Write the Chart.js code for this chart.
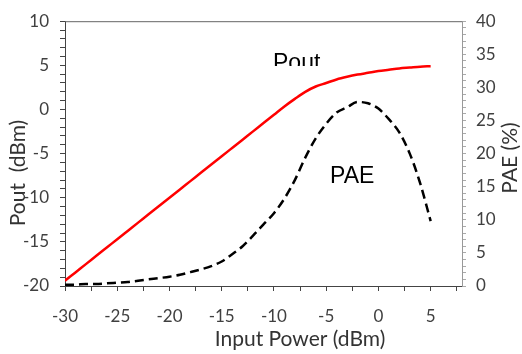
<!DOCTYPE html>
<html>
<head>
<meta charset="utf-8">
<script src="https://cdn.jsdelivr.net/npm/chart.js@4.4.1/dist/chart.umd.min.js"></script>
<style>
  body { margin: 0; background: #fff; }
  #wrap { width: 522px; height: 354px; }
</style>
</head>
<body>
<div id="wrap"><canvas id="paChart" width="522" height="354"></canvas></div>
<script>
// input sweep (dBm)
let inputPower = [-30, -29, -28, -27, -26, -25, -24, -23, -22, -21, -20, -19, -18, -17, -16, -15,
    -14, -13, -12, -11, -10, -9, -8, -7, -6, -5, -4, -3, -2, -1, 0, 1, 2, 3, 4, 5];

// output power (dBm)
let poutDbm = [-19.4, -18.46, -17.52, -16.58, -15.64, -14.7, -13.76, -12.82, -11.88, -10.94,
    -10.0, -9.06, -8.12, -7.18, -6.24, -5.3, -4.36, -3.42, -2.48, -1.54, -0.6, 0.34, 1.2, 2.0,
    2.6, 3.0, 3.4, 3.7, 3.95, 4.15, 4.35, 4.5, 4.65, 4.75, 4.85, 4.9];

// power added efficiency (%)
let paePct = [0.2, 0.2, 0.3, 0.3, 0.4, 0.5, 0.6, 0.8, 1.0, 1.2, 1.4, 1.7, 2.1, 2.5, 3.0, 3.7,
    4.8, 6.0, 7.6, 9.3, 11.0, 13.2, 16.0, 19.4, 22.3, 24.5, 26.2, 27.0, 27.8, 27.6, 26.8,
    25.2, 23.2, 20.0, 15.5, 9.8];

// tick positions
let xTicks = [-30, -27.5, -25, -22.5, -20, -17.5, -15, -12.5, -10, -7.5, -5, -2.5, 0, 2.5, 5, 7.5];
let xRange = [-30, 8];
let poutRange = [-20, 10];
let paeRange = [0, 40];

const tickFont = { family: 'Lato', size: 17 };
const tickColor = '#404040';

function every5(v) {
    return Math.abs(v % 5) < 1e-9 ? String(v) : '';
}

// frame top edge, axis titles and curve labels
const decorations = {
    id: 'decorations',
    afterDraw(chart) {
        const c = chart.ctx;
        const a = chart.chartArea;
        c.save();
        c.strokeStyle = '#666';
        c.lineWidth = 1;
        c.beginPath();
        c.moveTo(a.left, a.top + 0.5);
        c.lineTo(a.right, a.top + 0.5);
        c.stroke();

        c.fillStyle = '#333';
        c.font = '21px Lato';
        c.textAlign = 'center';
        c.textBaseline = 'middle';
        c.fillText('Input Power (dBm)', 300, 339);

        c.save();
        c.translate(18, 173);
        c.rotate(-Math.PI / 2);
        c.fillText('Pout  (dBm)', 0, 0);
        c.restore();

        c.save();
        c.translate(510, 158);
        c.rotate(-Math.PI / 2);
        c.fillText('PAE (%)', 0, 0);
        c.restore();

        c.fillStyle = '#000';
        c.font = '23px "Liberation Sans"';
        c.textAlign = 'left';
        c.textBaseline = 'alphabetic';
        c.fillText('PAE', 330, 183);

        c.save();
        c.beginPath();
        c.rect(200, 30, 200, 36);
        c.clip();
        c.fillText('Pout', 273, 70);
        c.restore();

        c.restore();
    }
};

let ctx = document.getElementById('paChart').getContext('2d');

let paChart = new Chart(ctx, {
    type: 'line',
    data: {
        labels: inputPower,
        datasets: [
            {
                label: 'Pout',
                data: inputPower.map((x, i) => ({ x: x, y: poutDbm[i] })),
                yAxisID: 'y',
                borderColor: '#ff0000',
                borderWidth: 2.5,
                pointRadius: 0,
                cubicInterpolationMode: 'monotone',
                fill: false
            },
            {
                label: 'PAE',
                data: inputPower.map((x, i) => ({ x: x, y: paePct[i] })),
                yAxisID: 'y1',
                borderColor: '#000000',
                borderWidth: 2.5,
                borderDash: [9, 5],
                pointRadius: 0,
                cubicInterpolationMode: 'monotone',
                fill: false
            }
        ]
    },
    options: {
        responsive: false,
        animation: false,
        layout: { padding: { top: 20 } },
        plugins: {
            legend: { display: false },
            tooltip: { enabled: false }
        },
        scales: {
            x: {
                type: 'linear',
                min: xRange[0],
                max: xRange[1],
                afterBuildTicks: scale => { scale.ticks = xTicks.map(v => ({ value: v })); },
                afterFit: scale => { scale.height = 68; },
                ticks: { callback: every5, autoSkip: false, maxRotation: 0, font: tickFont, color: tickColor, padding: 15 },
                grid: { drawOnChartArea: false, tickLength: 5, tickColor: '#444' },
                border: { color: '#444', width: 1 }
            },
            y: {
                position: 'left',
                min: poutRange[0],
                max: poutRange[1],
                afterFit: scale => { scale.width = 65; },
                ticks: { stepSize: 1, callback: every5, autoSkip: false, font: tickFont, color: tickColor, padding: 11 },
                grid: { drawOnChartArea: false, tickLength: 5, tickColor: '#444' },
                border: { color: '#444', width: 1 }
            },
            y1: {
                position: 'right',
                min: paeRange[0],
                max: paeRange[1],
                afterFit: scale => { scale.width = 60; },
                ticks: { stepSize: 1, callback: every5, autoSkip: false, font: tickFont, color: tickColor, padding: 10 },
                grid: { drawOnChartArea: false, tickLength: 4, tickColor: '#aaa' },
                border: { color: '#999', width: 1 }
            }
        }
    },
    plugins: [decorations]
});
</script>
</body>
</html>
